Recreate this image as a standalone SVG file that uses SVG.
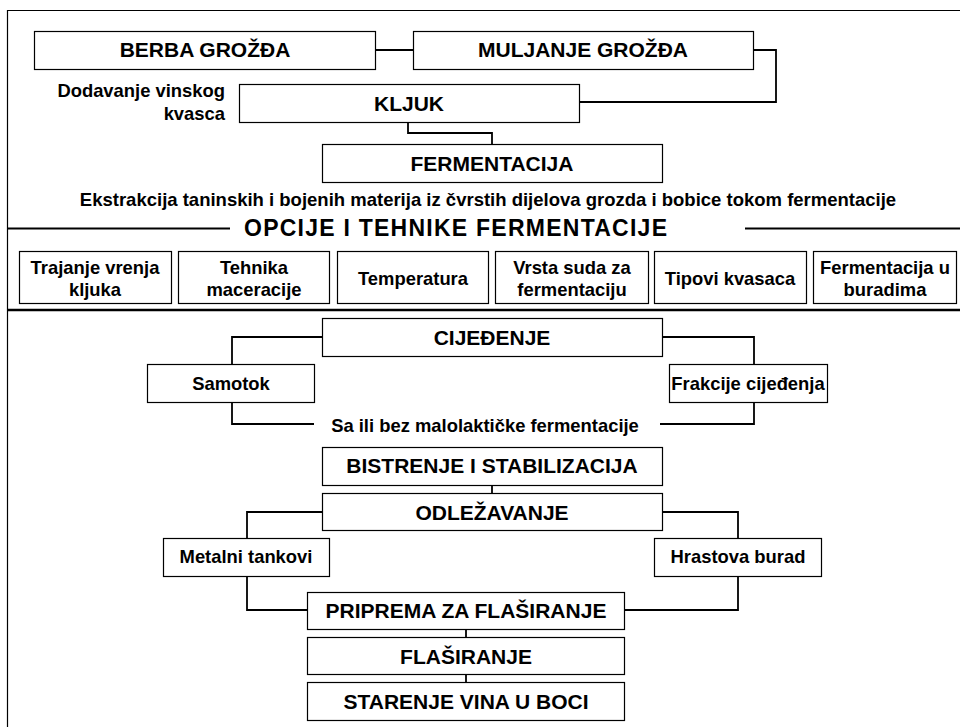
<svg xmlns="http://www.w3.org/2000/svg" width="960" height="727" viewBox="0 0 960 727">
<style>
.box{fill:#fff;stroke:#000;stroke-width:1.2}
.c{fill:none;stroke:#000;stroke-width:1.8}
.t{font-family:"Liberation Sans",Arial,sans-serif;font-weight:bold;fill:#000;text-anchor:middle}
.h{font-size:21px}
.s{font-size:18.4px}
</style>
<rect width="960" height="727" fill="#fff"/>
<g id="frame">
<path d="M960,10.5 H7.5 V727" fill="none" stroke="#000" stroke-width="1.2"/>
<path d="M7,228.5 H230 M745,228.5 H960" stroke="#000" stroke-width="1.8"/>
<path d="M7,310 H960" stroke="#000" stroke-width="2.6"/>
</g>
<g id="connectors">
<path class="c" d="M375,50 H413"/>
<path class="c" d="M753,50 H776 V102 H579"/>
<path class="c" d="M408,122 V133 H492 V144"/>
<path class="c" d="M322,337 H232 V364"/>
<path class="c" d="M232,402 V424 H314"/>
<path class="c" d="M662,337 H754 V364"/>
<path class="c" d="M754,402 V424 H660"/>
<path class="c" d="M492,485 V493"/>
<path class="c" d="M322,512 H247 V538"/>
<path class="c" d="M247,576 V610 H307"/>
<path class="c" d="M662,512 H738 V538"/>
<path class="c" d="M738,576 V610 H624"/>
<path class="c" d="M466,629 V637"/>
<path class="c" d="M466,674 V682"/>
</g>
<g id="berba"><rect class="box" x="34.5" y="31.5" width="341" height="38"/><text class="t h" x="205" y="57">BERBA GROŽĐA</text></g>
<g id="muljanje"><rect class="box" x="413.5" y="31.5" width="340" height="38"/><text class="t h" x="583" y="57">MULJANJE GROŽĐA</text></g>
<g id="dodavanje"><text class="t s" style="text-anchor:end" x="225" y="97">Dodavanje vinskog</text><text class="t s" style="text-anchor:end" x="225" y="120">kvasca</text></g>
<g id="kljuk"><rect class="box" x="239.5" y="84.5" width="340" height="38"/><text class="t h" x="409" y="111">KLJUK</text></g>
<g id="fermentacija"><rect class="box" x="322.5" y="144.5" width="340" height="38"/><text class="t h" x="492" y="171">FERMENTACIJA</text></g>
<g id="ekstrakcija"><text class="t" style="font-size:18.5px" x="488" y="206">Ekstrakcija taninskih i bojenih materija iz čvrstih dijelova grozda i bobice tokom fermentacije</text></g>
<g id="opcije"><text class="t" style="text-anchor:start;font-size:23px" x="244" y="236" textLength="423" lengthAdjust="spacing">OPCIJE I TEHNIKE FERMENTACIJE</text></g>
<g id="opt1"><rect class="box" x="19.5" y="251.5" width="152" height="52"/><text class="t s" x="95" y="274">Trajanje vrenja</text><text class="t s" x="95" y="296">kljuka</text></g>
<g id="opt2"><rect class="box" x="178.5" y="251.5" width="151" height="52"/><text class="t s" x="254" y="274">Tehnika</text><text class="t s" x="254" y="296">maceracije</text></g>
<g id="opt3"><rect class="box" x="337.5" y="251.5" width="151" height="52"/><text class="t s" x="413" y="285">Temperatura</text></g>
<g id="opt4"><rect class="box" x="495.5" y="251.5" width="153" height="52"/><text class="t s" x="572" y="274">Vrsta suda za</text><text class="t s" x="572" y="296">fermentaciju</text></g>
<g id="opt5"><rect class="box" x="654.5" y="251.5" width="152" height="52"/><text class="t s" x="730" y="285">Tipovi kvasaca</text></g>
<g id="opt6"><rect class="box" x="813.5" y="251.5" width="143" height="52"/><text class="t s" x="885" y="274">Fermentacija u</text><text class="t s" x="885" y="296">buradima</text></g>
<g id="cijedjenje"><rect class="box" x="322.5" y="318.5" width="340" height="38"/><text class="t h" x="492" y="345">CIJEĐENJE</text></g>
<g id="samotok"><rect class="box" x="147.5" y="364.5" width="167" height="38"/><text class="t s" x="231" y="390">Samotok</text></g>
<g id="frakcije"><rect class="box" x="669.5" y="364.5" width="158" height="38"/><text class="t s" x="748" y="390">Frakcije cijeđenja</text></g>
<g id="malolakticka"><text class="t s" x="485" y="432">Sa ili bez malolaktičke fermentacije</text></g>
<g id="bistrenje"><rect class="box" x="322.5" y="447.5" width="340" height="38"/><text class="t h" x="492" y="473">BISTRENJE I STABILIZACIJA</text></g>
<g id="odlezavanje"><rect class="box" x="322.5" y="493.5" width="340" height="37"/><text class="t h" x="492" y="520">ODLEŽAVANJE</text></g>
<g id="metalni"><rect class="box" x="163.5" y="538.5" width="166" height="38"/><text class="t s" x="246" y="563">Metalni tankovi</text></g>
<g id="hrastova"><rect class="box" x="654.5" y="538.5" width="167" height="38"/><text class="t s" x="738" y="563">Hrastova burad</text></g>
<g id="priprema"><rect class="box" x="307.5" y="592.5" width="317" height="37"/><text class="t h" x="466" y="618">PRIPREMA ZA FLAŠIRANJE</text></g>
<g id="flasiranje"><rect class="box" x="307.5" y="637.5" width="317" height="37"/><text class="t h" x="466" y="664">FLAŠIRANJE</text></g>
<g id="starenje"><rect class="box" x="307.5" y="682.5" width="317" height="38"/><text class="t h" x="466" y="709">STARENJE VINA U BOCI</text></g>
</svg>
